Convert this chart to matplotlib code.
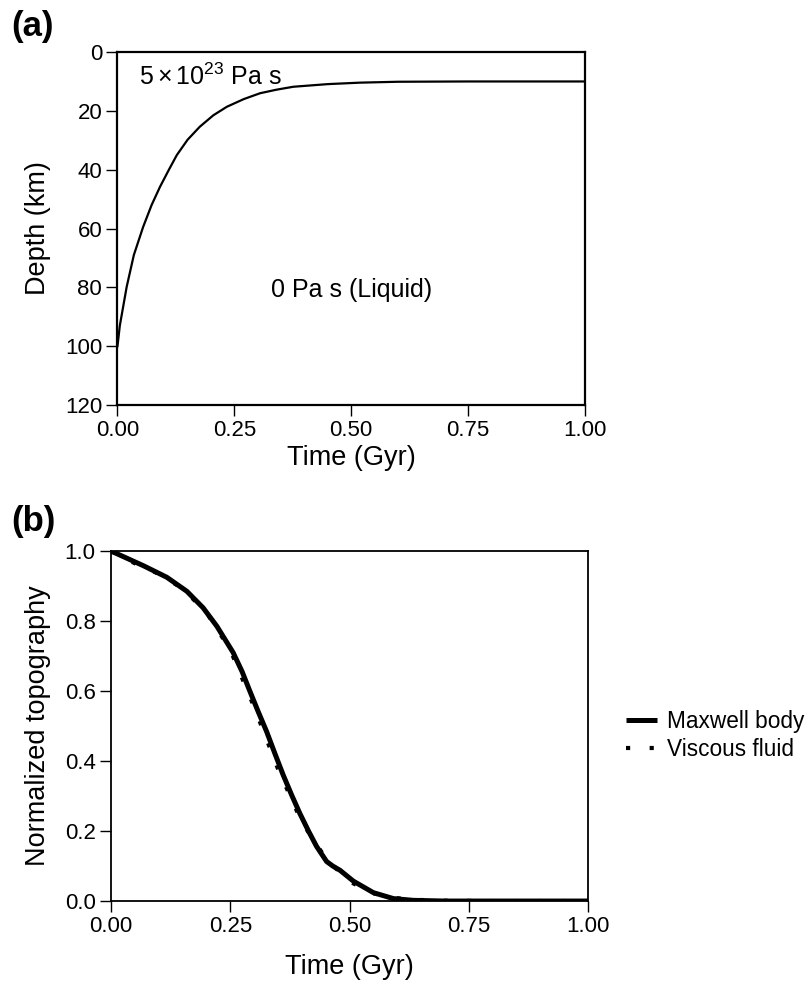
import numpy as np
import matplotlib
matplotlib.use('Agg')
import matplotlib.pyplot as plt

plt.rcParams['font.family'] = ['Liberation Sans', 'DejaVu Sans']
plt.rcParams['mathtext.fontset'] = 'custom'
plt.rcParams['mathtext.rm'] = 'Liberation Sans'
plt.rcParams['mathtext.it'] = 'Liberation Sans'

# panel (a): depth of the boundary vs time
t_a = [0.0, 0.005, 0.0197, 0.035, 0.055, 0.073, 0.091, 0.11, 0.127, 0.15, 0.176,
       0.205, 0.234, 0.27, 0.305, 0.34, 0.376, 0.45, 0.519, 0.6, 0.75, 1.0]
depth_a = [100, 93, 79.8, 69, 59.4, 52, 45.8, 40, 35, 29.8, 25.4,
           21.5, 18.6, 16, 14, 12.8, 11.8, 10.9, 10.4, 10.1, 10.0, 10.0]

# panel (b): normalized topography
t_max = [0.0, 0.068, 0.117, 0.159, 0.193, 0.222, 0.256, 0.275, 0.291, 0.308, 0.326,
         0.344, 0.361, 0.379, 0.396, 0.414, 0.431, 0.452, 0.465, 0.48, 0.508,
         0.55, 0.592, 0.634, 0.7, 0.8, 1.0]
topo_max = [1.0, 0.958, 0.925, 0.885, 0.838, 0.785, 0.71, 0.655, 0.6, 0.543, 0.485,
            0.42, 0.36, 0.302, 0.25, 0.2, 0.156, 0.113, 0.1, 0.088, 0.057,
            0.024, 0.007, 0.002, 0.0, 0.0, 0.0]

t_visc = [0.0, 0.05, 0.1, 0.15, 0.2, 0.25, 0.3, 0.35, 0.4, 0.45, 0.5, 0.55,
          0.6, 0.65, 0.7, 0.8, 0.9, 1.0]
topo_visc = [1.0, 0.965, 0.935, 0.893, 0.825, 0.718, 0.555, 0.378, 0.226, 0.122,
             0.056, 0.022, 0.008, 0.003, 0.001, 0.0, 0.0, 0.0]

fs_tick = 16
fs_lab = 19.5
fs_ann = 18
fs_leg = 16.3

fig = plt.figure(figsize=(8.08, 9.84), dpi=100)

# ---- (a)
ax1 = fig.add_axes([0.1454, 0.5884, 0.5786, 0.3587])
ax1.plot(t_a, depth_a, color='k', lw=1.6)
ax1.set_xlim(0, 1)
ax1.set_ylim(120, 0)
ax1.set_xticks([0, 0.25, 0.5, 0.75, 1.0])
ax1.set_xticklabels(['0.00', '0.25', '0.50', '0.75', '1.00'])
ax1.set_yticks([0, 20, 40, 60, 80, 100, 120])
ax1.set_xlabel('Time (Gyr)', fontsize=fs_lab, labelpad=3)
ax1.set_ylabel('Depth (km)', fontsize=fs_lab, labelpad=10)
for s in ax1.spines.values():
    s.set_linewidth(1.6)
ax1.tick_params(direction='out', length=8, width=1, labelsize=fs_tick, pad=3)
ax1.text(0.046, 11.2, r'$5\times10^{23}$ Pa s', fontsize=fs_ann, va='baseline')
ax1.text(0.329, 83.2, '0 Pa s (Liquid)', fontsize=fs_ann, va='baseline')
fig.text(0.014, 0.9726, '(a)', fontsize=25, fontweight='bold', va='center')

# ---- (b)
ax2 = fig.add_axes([0.1374, 0.0843, 0.5903, 0.3557])
ax2.plot(t_visc, topo_visc, color='k', lw=3, linestyle=(0, (1, 4.67)),
         dash_capstyle='butt', label='Viscous fluid', zorder=2)
ax2.plot(t_max, topo_max, color='k', lw=3.6, label='Maxwell body',
         solid_capstyle='butt', solid_joinstyle='round', zorder=3)
ax2.set_xlim(0, 1)
ax2.set_ylim(0, 1)
ax2.set_xticks([0, 0.25, 0.5, 0.75, 1.0])
ax2.set_xticklabels(['0.00', '0.25', '0.50', '0.75', '1.00'])
ax2.set_yticks([0, 0.2, 0.4, 0.6, 0.8, 1.0])
ax2.set_yticklabels(['0.0', '0.2', '0.4', '0.6', '0.8', '1.0'])
ax2.set_xlabel('Time (Gyr)', fontsize=fs_lab, labelpad=12)
ax2.set_ylabel('Normalized topography', fontsize=fs_lab, labelpad=10)
for s in ax2.spines.values():
    s.set_linewidth(1.3)
ax2.tick_params(direction='out', length=8, width=1, labelsize=fs_tick, pad=3)
h, l = ax2.get_legend_handles_labels()
ax2.legend(h[::-1], l[::-1], loc='center left', bbox_to_anchor=(1.0797, 0.474),
           frameon=False, fontsize=fs_leg, handlelength=1.37, handletextpad=0.44,
           borderaxespad=0, borderpad=0, labelspacing=0.22)
fig.text(0.014, 0.4705, '(b)', fontsize=25, fontweight='bold', va='center')

fig.savefig('out.png', dpi=100)
